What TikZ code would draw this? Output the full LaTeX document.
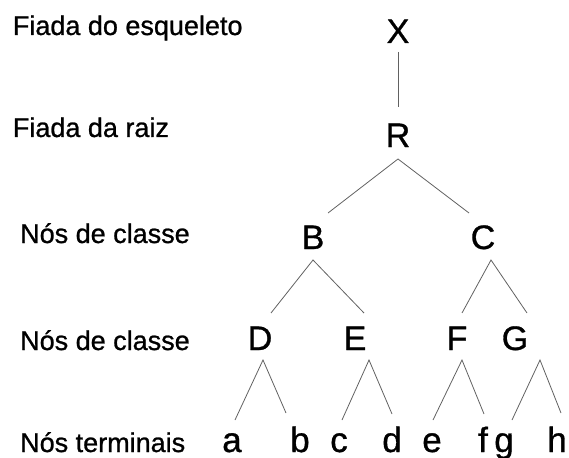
\documentclass[tikz,border=0pt]{standalone}
\usepackage{fontspec}
\setmainfont{Liberation Sans}
\newfontfamily\reffont[FakeBold=0.9]{Liberation Sans}
\begin{document}
\begin{tikzpicture}[x=1pt,y=1pt,
  lvl/.style={anchor=base west,inner sep=0pt,font=\reffont\fontsize{27}{30}\selectfont},
  cat/.style={anchor=base,inner sep=0pt,font=\reffont\fontsize{34}{38}\selectfont},
  term/.style={anchor=base,inner sep=0pt,font=\reffont\fontsize{35}{38}\selectfont},
  edge/.style={draw=black!62,line width=0.8pt}]
\useasboundingbox (0,0) rectangle (569,-457);
% level labels
\node[lvl] (l1) at (12.7,-35) {Fiada do esqueleto};
\node[lvl] (l2) at (12.7,-137) {Fiada da raiz};
\node[lvl] (l3) at (20,-243) {Nós de classe};
\node[lvl] (l4) at (20,-350) {Nós de classe};
\node[lvl] (l5) at (20,-452) {Nós terminais};
% tree nodes
\node[cat] (X) at (398,-43) {X};
\node[cat] (R) at (398,-147) {R};
\node[cat] (B) at (313,-249) {B};
\node[cat] (C) at (483,-249) {C};
\node[cat] (D) at (260,-350) {D};
\node[cat] (E) at (355,-350) {E};
\node[cat] (F) at (457,-350) {F};
\node[cat] (G) at (515,-350) {G};
\node[term] (a) at (232,-452) {a};
\node[term] (b) at (300,-452) {b};
\node[term] (c) at (339,-452) {c};
\node[term] (d) at (392,-452) {d};
\node[term] (e) at (432,-452) {e};
\node[term] (f) at (483,-452) {f};
\node[term] (g) at (504,-452) {g};
\node[term] (h) at (557,-452) {h};
% connectors
\draw[edge] ([yshift=-9pt]X.base) -- ([yshift=40pt]R.base);
\draw[edge] ([xshift=15pt,yshift=36pt]B.base) -- ([yshift=-12pt]R.base) -- ([xshift=-14pt,yshift=36pt]C.base);
\draw[edge] ([xshift=11pt,yshift=37pt]D.base) -- ([yshift=-11pt]B.base) -- ([xshift=9pt,yshift=37pt]E.base);
\draw[edge] ([xshift=5pt,yshift=37pt]F.base) -- ([xshift=8pt,yshift=-11pt]C.base) -- ([xshift=12pt,yshift=37pt]G.base);
\draw[edge] ([xshift=3pt,yshift=32pt]a.base) -- ([xshift=3pt,yshift=-10pt]D.base) -- ([xshift=-14pt,yshift=39pt]b.base);
\draw[edge] ([xshift=3pt,yshift=32pt]c.base) -- ([xshift=14pt,yshift=-10pt]E.base) -- ([yshift=38pt]d.base);
\draw[edge] ([xshift=1pt,yshift=32pt]e.base) -- ([xshift=5pt,yshift=-10pt]F.base) -- ([xshift=1pt,yshift=38pt]f.base);
\draw[edge] ([xshift=8pt,yshift=32pt]g.base) -- ([xshift=25pt,yshift=-10pt]G.base) -- ([xshift=4pt,yshift=39pt]h.base);
\end{tikzpicture}
\end{document}
